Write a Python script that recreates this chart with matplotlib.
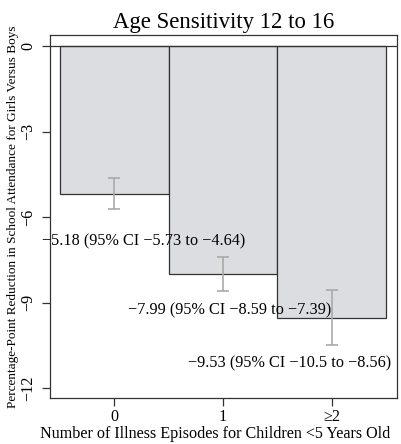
import matplotlib
matplotlib.use("Agg")
import matplotlib.pyplot as plt

plt.rcParams['font.family'] = ['Liberation Serif', 'DejaVu Serif']

episodes = ["0", "1", "\u22652"]
estimates = [-5.18, -7.99, -9.53]
ci_low = [-5.73, -8.59, -10.5]
ci_high = [-4.64, -7.39, -8.56]
labels = [
    "\u22125.18 (95% CI \u22125.73 to \u22124.64)",
    "\u22127.99 (95% CI \u22128.59 to \u22127.39)",
    "\u22129.53 (95% CI \u221210.5 to \u22128.56)",
]
yticks = [0, -3, -6, -9, -12]

# where the annotation texts sit (data coords)
label_x = [0.27, 1.06, 1.61]
label_y = [-6.84, -9.26, -11.13]

fig = plt.figure(figsize=(4.01, 4.44), dpi=100)
ax = fig.add_axes([50 / 401, 1 - 398 / 444, 347 / 401, 363 / 444])

xpos = list(range(len(episodes)))
ax.bar(xpos, estimates, width=1.0, color="#dcdde0", edgecolor="#333333", linewidth=0.9)
err_lo = [e - l for e, l in zip(estimates, ci_low)]
err_hi = [h - e for e, h in zip(estimates, ci_high)]
ax.errorbar(xpos, estimates, yerr=[err_lo, err_hi], fmt="none", ecolor="#aaaaaa",
            elinewidth=1.2, capsize=4, capthick=1.2)
ax.axhline(0, color="#333333", linewidth=0.9)

for x, y, t in zip(label_x, label_y, labels):
    ax.text(x, y, t, ha="center", va="center", fontsize=11.7)

ax.set_xlim(-0.59, 2.6)
ax.set_ylim(-12.35, 0.39)
ax.set_xticks(xpos)
ax.set_xticklabels(episodes, fontsize=11.6)
ax.set_yticks(yticks)
ax.set_yticklabels(["0" if v == 0 else "\u2212" + str(-v) for v in yticks],
                   fontsize=11.6, rotation=90, va="center")
ax.tick_params(direction="out", length=6, width=0.9, color="#333333")
ax.tick_params(axis="y", pad=4)
ax.tick_params(axis="x", pad=2)
for s in ax.spines.values():
    s.set_color("#333333")
    s.set_linewidth(0.9)

ax.set_title("Age Sensitivity 12 to 16", fontsize=16.4, pad=5)
ax.set_xlabel("Number of Illness Episodes for Children <5 Years Old", fontsize=11.6)
ax.xaxis.set_label_coords(0.4755, -0.078)
ax.set_ylabel("Percentage-Point Reduction in School Attendance for Girls Versus Boys",
              fontsize=9.5)
ax.yaxis.set_label_coords(-0.089, 0.5)

fig.savefig("out.png", dpi=100)
